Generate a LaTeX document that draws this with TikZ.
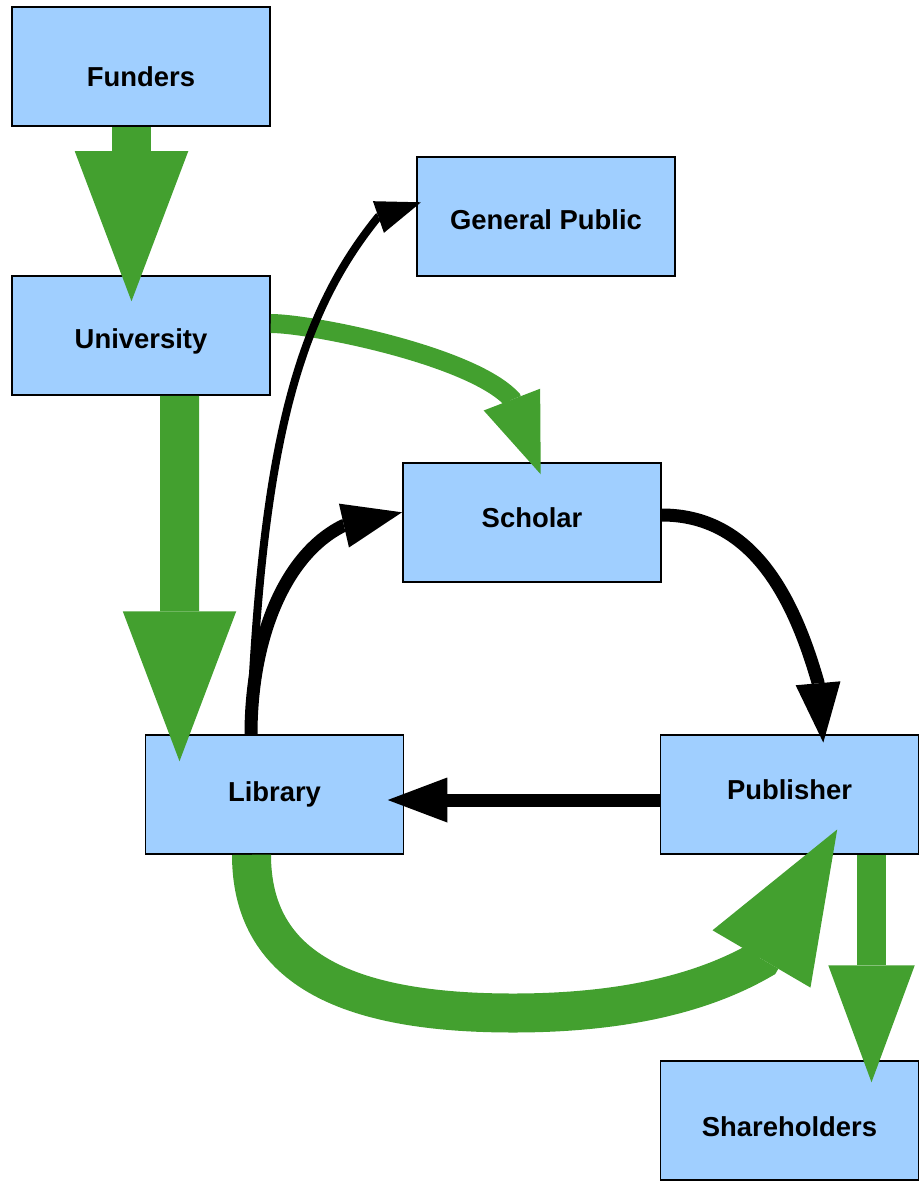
\documentclass[tikz,border=0pt]{standalone}
\usepackage{fontspec}
\setmainfont{Liberation Sans}
\usetikzlibrary{arrows.meta,positioning}
\definecolor{boxblue}{HTML}{A0CFFF}
\definecolor{flowgreen}{HTML}{43A02F}
\tikzset{
    actor/.style={
    rectangle,draw=black,line width=0.03cm,fill=boxblue,
    minimum width=5.16cm,minimum height=2.38cm,
    font=\fontsize{15.6}{18}\selectfont\bfseries
    },
    bigflow/.style={
    draw=flowgreen,line width=0.78cm,
    -{Triangle[width=2.27cm,length=3cm,line width=0pt]}
    },
    midflow/.style={
    draw=flowgreen,line width=0.57cm,
    -{Triangle[width=1.73cm,length=2.34cm,line width=0pt]}
    },
    smallflow/.style={
    draw=flowgreen,line width=0.38cm,
    -{Triangle[width=1.21cm,length=1.6cm,line width=0pt]}
    },
    paper/.style={
    draw=black,line width=0.26cm,
    -{Triangle[width=0.9cm,length=1.19cm,line width=0pt]}
    },
    access/.style={
    draw=black,line width=0.16cm,
    -{Triangle[width=0.67cm,length=0.9cm,line width=0pt]}
    },
}
\begin{document}
\begin{tikzpicture}[on grid]
   \useasboundingbox (0,0) rectangle (18.44,-23.68);
   \node[actor,text height=0.8cm,text depth=0pt] (Funders) at (2.82,-1.33) {Funders};
   \node[actor,text height=0.63cm,below=5.38cm of Funders] (University) {University};
   \node[actor,text height=0.534cm] (GenPublic) at (10.92,-4.33) {General Public};
   \node[actor,text depth=0.18cm] (Scholar) at (10.64,-10.45) {Scholar};
   \node[actor] (Library) at (5.49,-15.89) {Library};
   \node[actor,text depth=0.18cm,right=10.3cm of Library] (Publisher) {Publisher};
   \node[actor,text height=0.634cm,text depth=0pt,below=6.52cm of Publisher] (Shareholders) {Shareholders};
   \coordinate (dip) at (10.26,-20.26);

   % money
   \draw[bigflow] ([xshift=-0.19cm]Funders.south) -- ([xshift=-0.19cm,yshift=-0.52cm]University.north);
   \draw[bigflow] ([xshift=0.77cm]University.south) -- ([xshift=-1.9cm,yshift=-0.54cm]Library.north);
   \draw[bigflow] ([xshift=-0.46cm]Library.south)
      .. controls +(0,-2.226) and +(-3.41,0) .. (dip)
      .. controls +(1.8,0) and +(-1.386,-0.8) .. ([xshift=-0.57cm,yshift=-2.1cm]Publisher.south)
      -- ([xshift=0.954cm,yshift=0.506cm]Publisher.south);
   \draw[midflow] ([xshift=1.64cm]Publisher.south) -- ([xshift=1.64cm,yshift=-0.44cm]Shareholders.north);
   \draw[smallflow] ([yshift=0.24cm]University.east)
      .. controls +(0.8,0) and +(-0.818,0.876) .. ([xshift=-0.406cm,yshift=1.264cm]Scholar.north)
      -- ([xshift=0.174cm,yshift=-0.24cm]Scholar.north);

   % papers
   \draw[access] ([xshift=-0.49cm]Library.north)
      .. controls +(0.24,5.7) and +(-1.636,-2.02) .. ([xshift=-0.766cm,yshift=-0.014cm]GenPublic.west)
      -- ([xshift=0.094cm,yshift=0.284cm]GenPublic.west);
   \draw[paper] ([xshift=-0.47cm]Library.north)
      .. controls +(0,1.9) and +(-1.174,-0.584) .. ([xshift=-1.186cm,yshift=-0.066cm]Scholar.west)
      -- ([xshift=-0.006cm,yshift=0.204cm]Scholar.west);
   \draw[paper] ([yshift=0.15cm]Scholar.east)
      .. controls +(1.8,0) and +(-0.496,1.73) .. ([xshift=0.57cm,yshift=1.034cm]Publisher.north)
      -- ([xshift=0.676cm,yshift=-0.166cm]Publisher.north);
   \draw[paper] ([yshift=-0.11cm]Publisher.west) -- ([xshift=-0.33cm,yshift=-0.11cm]Library.east);
\end{tikzpicture}
\end{document}
